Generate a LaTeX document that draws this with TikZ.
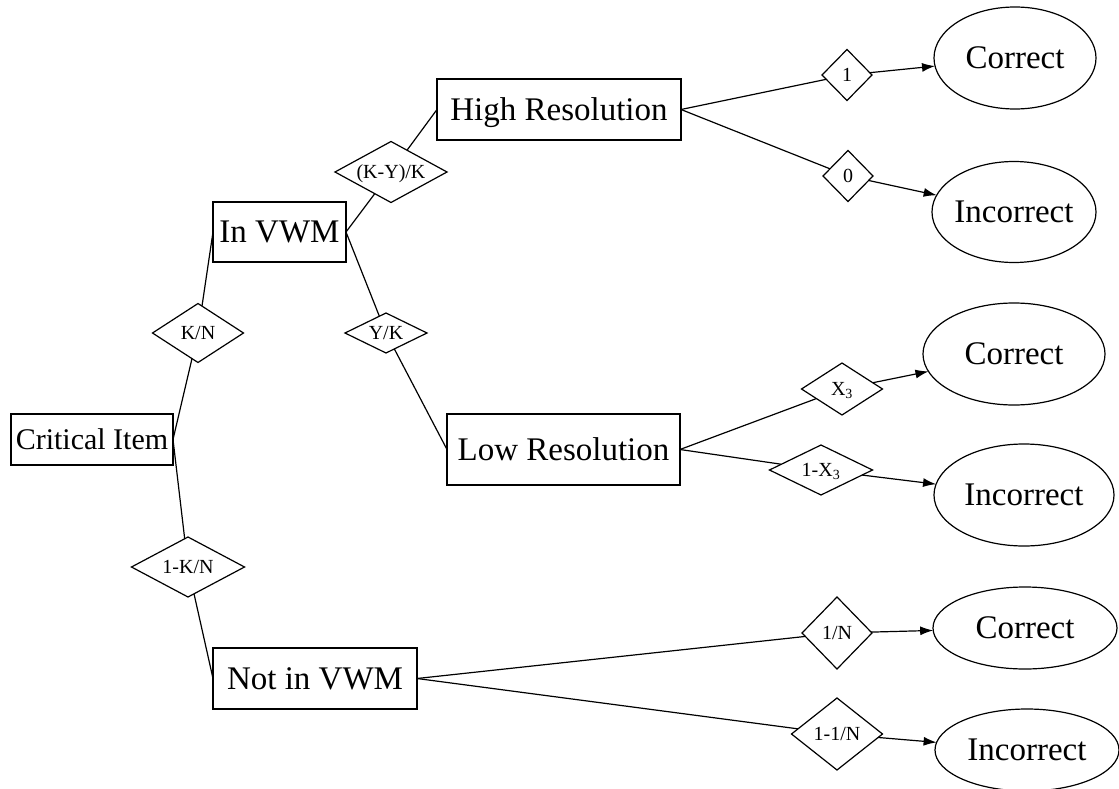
\documentclass[tikz,border=0pt]{standalone}
\usepackage{fontspec}
\setmainfont{Liberation Serif}
\usetikzlibrary{shapes.geometric,arrows.meta}
\newcommand{\dlab}[1]{\makebox[0pt]{\raisebox{-.33em}[0pt][0pt]{#1}}}
\tikzset{
  base/.style={draw=black, line width=1.2pt, inner sep=0pt, outer sep=0pt, text=black},
  box/.style={base, rectangle, font=\fontsize{33}{36}\selectfont},
  dia/.style={base, diamond, font=\fontsize{20}{22}\selectfont},
  oval/.style={base, ellipse, font=\fontsize{33}{36}\selectfont},
  link/.style={draw=black, line width=1.2pt},
  arr/.style={link, -{Latex[length=13pt,width=9pt]}},
}
\begin{document}
\begin{tikzpicture}[x=1pt,y=-1pt]
\useasboundingbox[fill=white] (0,0) rectangle (1119,789);
% boxes
\node[box, minimum width=162, minimum height=51, font=\fontsize{30}{33}\selectfont] (ci) at (92,439.5) {\dlab{Critical Item}};
\node[box, minimum width=133, minimum height=60] (vwm) at (279.5,232) {\dlab{In VWM}};
\node[box, minimum width=204, minimum height=61] (nvwm) at (315,678.5) {\dlab{Not in VWM}};
\node[box, minimum width=244, minimum height=61] (hr) at (559,109.5) {\dlab{High Resolution}};
\node[box, minimum width=233, minimum height=71] (lr) at (563.5,449.5) {\dlab{Low Resolution}};
% diamonds
\node[dia, minimum width=91, minimum height=59] (kn) at (198,333) {\dlab{K/N}};
\node[dia, minimum width=113, minimum height=60] (onekn) at (188,567) {\dlab{1-K/N}};
\node[dia, minimum width=112, minimum height=61] (kyk) at (391,172) {\dlab{(K-Y)/K}};
\node[dia, minimum width=82, minimum height=40] (yk) at (386,333) {\dlab{Y/K}};
\node[dia, minimum width=50, minimum height=51] (d1) at (847,75) {\dlab{1}};
\node[dia, minimum width=50, minimum height=51] (d0) at (848,176) {\dlab{0}};
\node[dia, minimum width=81, minimum height=52] (dx) at (842,389) {\dlab{X\textsubscript{3}}};
\node[dia, minimum width=103, minimum height=50] (dnx) at (821,470) {\dlab{1-X\textsubscript{3}}};
\node[dia, minimum width=70, minimum height=72] (dn) at (837,633) {\dlab{1/N}};
\node[dia, minimum width=91, minimum height=72] (dnn) at (837,734) {\dlab{1-1/N}};
% ellipses
\node[oval, minimum width=162, minimum height=102] (c1) at (1015,58) {\dlab{Correct}};
\node[oval, minimum width=164, minimum height=101] (i1) at (1014,212) {\dlab{Incorrect}};
\node[oval, minimum width=182, minimum height=102] (c2) at (1014,354) {\dlab{Correct}};
\node[oval, minimum width=180, minimum height=102] (i2) at (1024,495) {\dlab{Incorrect}};
\node[oval, minimum width=184, minimum height=82] (c3) at (1025,628) {\dlab{Correct}};
\node[oval, minimum width=184, minimum height=82] (i3) at (1027,750) {\dlab{Incorrect}};
% connectors
\draw[link] (ci.east) -- (kn);
\draw[link] (kn) -- (vwm.west);
\draw[link] (ci.east) -- (onekn);
\draw[link] (onekn) -- (nvwm.west);
\draw[link] (vwm.east) -- (kyk);
\draw[link] (kyk) -- (hr.west);
\draw[link] (vwm.east) -- (yk);
\draw[link] (yk) -- (lr.west);
\draw[link] (hr.east) -- (d1);
\draw[arr] (d1) -- (c1);
\draw[link] (hr.east) -- (d0);
\draw[arr] (d0) -- (i1);
\draw[link] (lr.east) -- (dx);
\draw[arr] (dx) -- (c2);
\draw[link] (lr.east) -- (dnx);
\draw[arr] (dnx) -- (i2);
\draw[link] (nvwm.east) -- (dn);
\draw[arr] (dn) -- (c3);
\draw[link] (nvwm.east) -- (dnn);
\draw[arr] (dnn) -- (i3);
\end{tikzpicture}
\end{document}
